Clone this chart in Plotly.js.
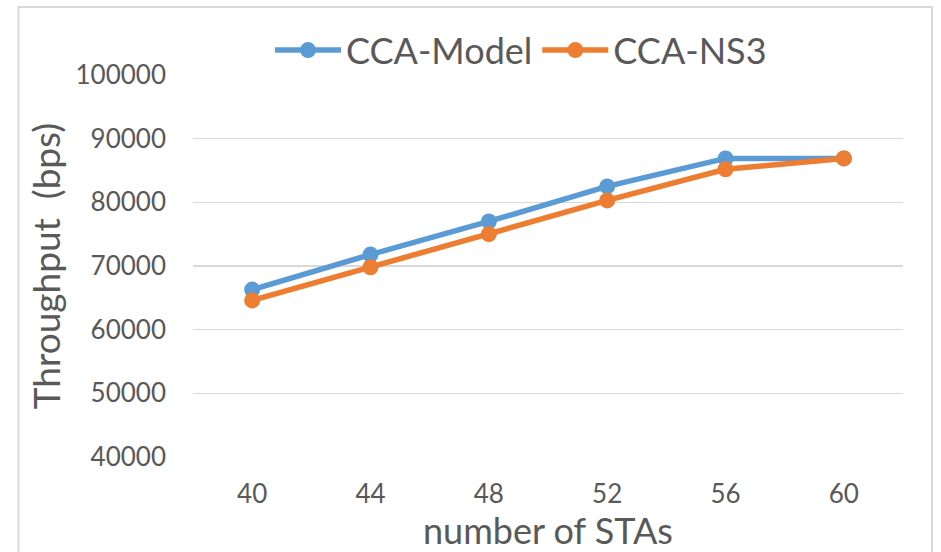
<!DOCTYPE html>
<html>
<head>
<meta charset="utf-8">
<script src="https://cdn.plot.ly/plotly-3.0.1.min.js"></script>
<style>
html,body{margin:0;padding:0;background:#fff;}
#chart{width:941px;height:552px;}
</style>
</head>
<body>
<div id="chart"></div>
<script>
const categories = ["40", "44", "48", "52", "56", "60"];
const ccaModel = [66300, 71800, 77000, 82500, 86900, 86900];
const ccaNS3 = [64600, 69800, 75000, 80300, 85200, 86900];
const yTicks = [40000, 50000, 60000, 70000, 80000, 90000, 100000];

const FONT = "Lato, 'Open Sans', sans-serif";
const GREY = "#595959";

const traces = [
  {
    x: categories, y: ccaModel, name: "CCA-Model", type: "scatter", mode: "lines+markers",
    line: {color: "#5B9BD5", width: 5.5}, marker: {color: "#5B9BD5", size: 16}
  },
  {
    x: categories, y: ccaNS3, name: "CCA-NS3", type: "scatter", mode: "lines+markers",
    line: {color: "#ED7D31", width: 5.5}, marker: {color: "#ED7D31", size: 16}
  }
];

const layout = {
  width: 941, height: 552,
  margin: {l: 193, r: 38, t: 75, b: 95},
  paper_bgcolor: "#fff", plot_bgcolor: "#fff",
  font: {family: FONT, color: GREY},
  showlegend: true,
  legend: {
    orientation: "h", x: 0.462, xanchor: "center", y: 1.065, yanchor: "middle",
    font: {size: 36, color: GREY, family: FONT}, bgcolor: "rgba(0,0,0,0)",
    itemwidth: 66, tracegroupgap: 0
  },
  xaxis: {
    type: "category", range: [-0.5, 5.5],
    showgrid: false, zeroline: false, showline: false, ticks: "",
    tickfont: {size: 26, color: GREY, family: FONT},
    ticklabelstandoff: 19,
    title: {text: "number of STAs", font: {size: 36, color: GREY, family: FONT}, standoff: 1}
  },
  yaxis: {
    range: [40000, 100000], tickvals: yTicks, ticktext: yTicks.map(String),
    showgrid: true, gridcolor: "#d9d9d9", gridwidth: 1.5, zeroline: false, showline: false, ticks: "",
    tickfont: {size: 26, color: GREY, family: FONT},
    ticklabelstandoff: 26,
    title: {text: "Throughput  (bps)", font: {size: 37, color: GREY, family: FONT}, standoff: 3}
  },
  shapes: [
    {type: "rect", xref: "paper", yref: "paper", x0: -0.2458, x1: 1.0408, y0: -0.35, y1: 1.178,
     line: {color: "#d9d9d9", width: 2}, fillcolor: "rgba(0,0,0,0)", layer: "below"}
  ]
};

Plotly.newPlot("chart", traces, layout, {displayModeBar: false, staticPlot: true});
</script>
</body>
</html>
